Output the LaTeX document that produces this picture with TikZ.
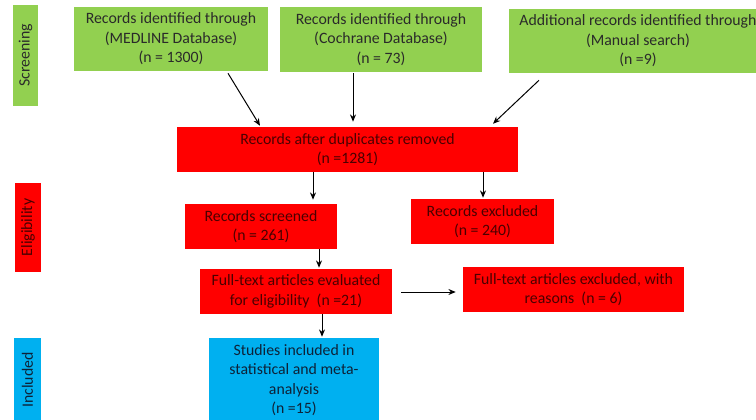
\documentclass[tikz,border=0pt]{standalone}
\usepackage{fontspec}
\setmainfont{Carlito}
\usetikzlibrary{arrows.meta}
\definecolor{gbox}{HTML}{92D050}
\definecolor{rbox}{HTML}{FF0000}
\definecolor{bbox}{HTML}{00B0F0}
\definecolor{gtext}{HTML}{2A2A2A}
\definecolor{rtext}{HTML}{4A0000}
\definecolor{btext}{HTML}{0E2238}
\newcommand\flowfont{\fontsize{11.85pt}{14.6pt}\selectfont}
\tikzset{
  box/.style={rectangle, inner sep=0pt, align=center, font=\flowfont},
  greenbox/.style={box, fill=gbox, text=gtext},
  redbox/.style={box, fill=rbox, text=rtext},
  bluebox/.style={box, fill=bbox, text=btext},
  stage/.style={rectangle, inner sep=0pt, font=\flowfont},
  arr/.style={line width=0.75pt, -{Stealth[length=5.5pt,width=4.5pt]}},
}
\begin{document}
\begin{tikzpicture}[x=0.75pt,y=-0.75pt]
\useasboundingbox (0,0) rectangle (756,420);
\clip (0,0) rectangle (756,420);
\fill[white] (0,0) rectangle (756,420);

% stage bars on the left
\node[stage, fill=gbox, minimum width={25*0.75pt}, minimum height={101*0.75pt}] (scrbar) at (25.5,55.5) {};
\node[rotate=90, font=\flowfont, text=gtext] (scrlbl) at (scrbar.center) {Screening};
\node[stage, fill=rbox, minimum width={26*0.75pt}, minimum height={89*0.75pt}] (elibar) at (28,227.5) {};
\node[rotate=90, font=\flowfont, text=rtext] (elilbl) at (elibar.center) {Eligibility};
\node[stage, fill=bbox, minimum width={27*0.75pt}, minimum height={84*0.75pt}] (incbar) at (27.5,380) {};
\node[rotate=90, font=\flowfont, text=btext] (inclbl) at (incbar.center) {Included};

% identification
\node[greenbox, minimum width={194*0.75pt}, minimum height={64*0.75pt}] (med) at (171,39)
  {Records identified through\\(MEDLINE Database)\\(n = 1300)};
\node[greenbox, minimum width={202*0.75pt}, minimum height={65*0.75pt}] (coch) at (381,39.5)
  {Records identified through\\(Cochrane Database)\\(n = 73)};
\node[greenbox, minimum width={258*0.75pt}, minimum height={64*0.75pt}] (man) at (638,41)
  {Additional records identified through\\(Manual search)\\(n =9)};

% screening and eligibility
\node[redbox, minimum width={341*0.75pt}, minimum height={45*0.75pt}] (dup) at (347.5,149.5)
  {Records after duplicates removed\\(n =1281)};
\node[redbox, minimum width={152*0.75pt}, minimum height={45*0.75pt}] (scr) at (261,226.5)
  {Records screened\\(n = 261)};
\node[redbox, minimum width={143*0.75pt}, minimum height={45*0.75pt}] (exc) at (482.5,221.5)
  {Records excluded\\(n = 240)};
\node[redbox, minimum width={192*0.75pt}, minimum height={45*0.75pt}] (full) at (296,291.5)
  {Full-text articles evaluated\\for eligibility~ (n =21)};
\node[redbox, minimum width={221*0.75pt}, minimum height={45*0.75pt}] (fexc) at (573.5,289.5)
  {Full-text articles excluded, with\\reasons~ (n = 6)};

% inclusion
\node[bluebox, minimum width={170*0.75pt}, minimum height={84*0.75pt}] (inc) at (294,380)
  {Studies included in\\statistical and meta-\\analysis\\(n =15)};

% connectors
\draw[arr] ([xshift=57*0.75pt, yshift=-2*0.75pt]med.south) -- ([xshift=-87.5*0.75pt, yshift=1*0.75pt]dup.north);
\draw[arr] ([xshift=-28*0.75pt, yshift=-1*0.75pt]coch.south) -- ([xshift=5.5*0.75pt, yshift=5*0.75pt]dup.north);
\draw[arr] ([xshift=-99*0.75pt, yshift=-7*0.75pt]man.south) -- ([xshift=145.5*0.75pt, yshift=3*0.75pt]dup.north);
\draw[arr] (dup.south -| 313,0) -- ([yshift=4*0.75pt]scr.north -| 313,0);
\draw[arr] (dup.south -| 483,0) -- ([yshift=1*0.75pt]exc.north -| 483,0);
\draw[arr] (scr.south -| 319,0) -- ([yshift=1*0.75pt]full.north -| 319,0);
\draw[arr] ([xshift=9*0.75pt]full.east |- 0,292) -- ([xshift=-7*0.75pt]fexc.west |- 0,292);
\draw[arr] (full.south -| 322,0) -- ([yshift=1*0.75pt]inc.north -| 322,0);
\end{tikzpicture}
\end{document}
